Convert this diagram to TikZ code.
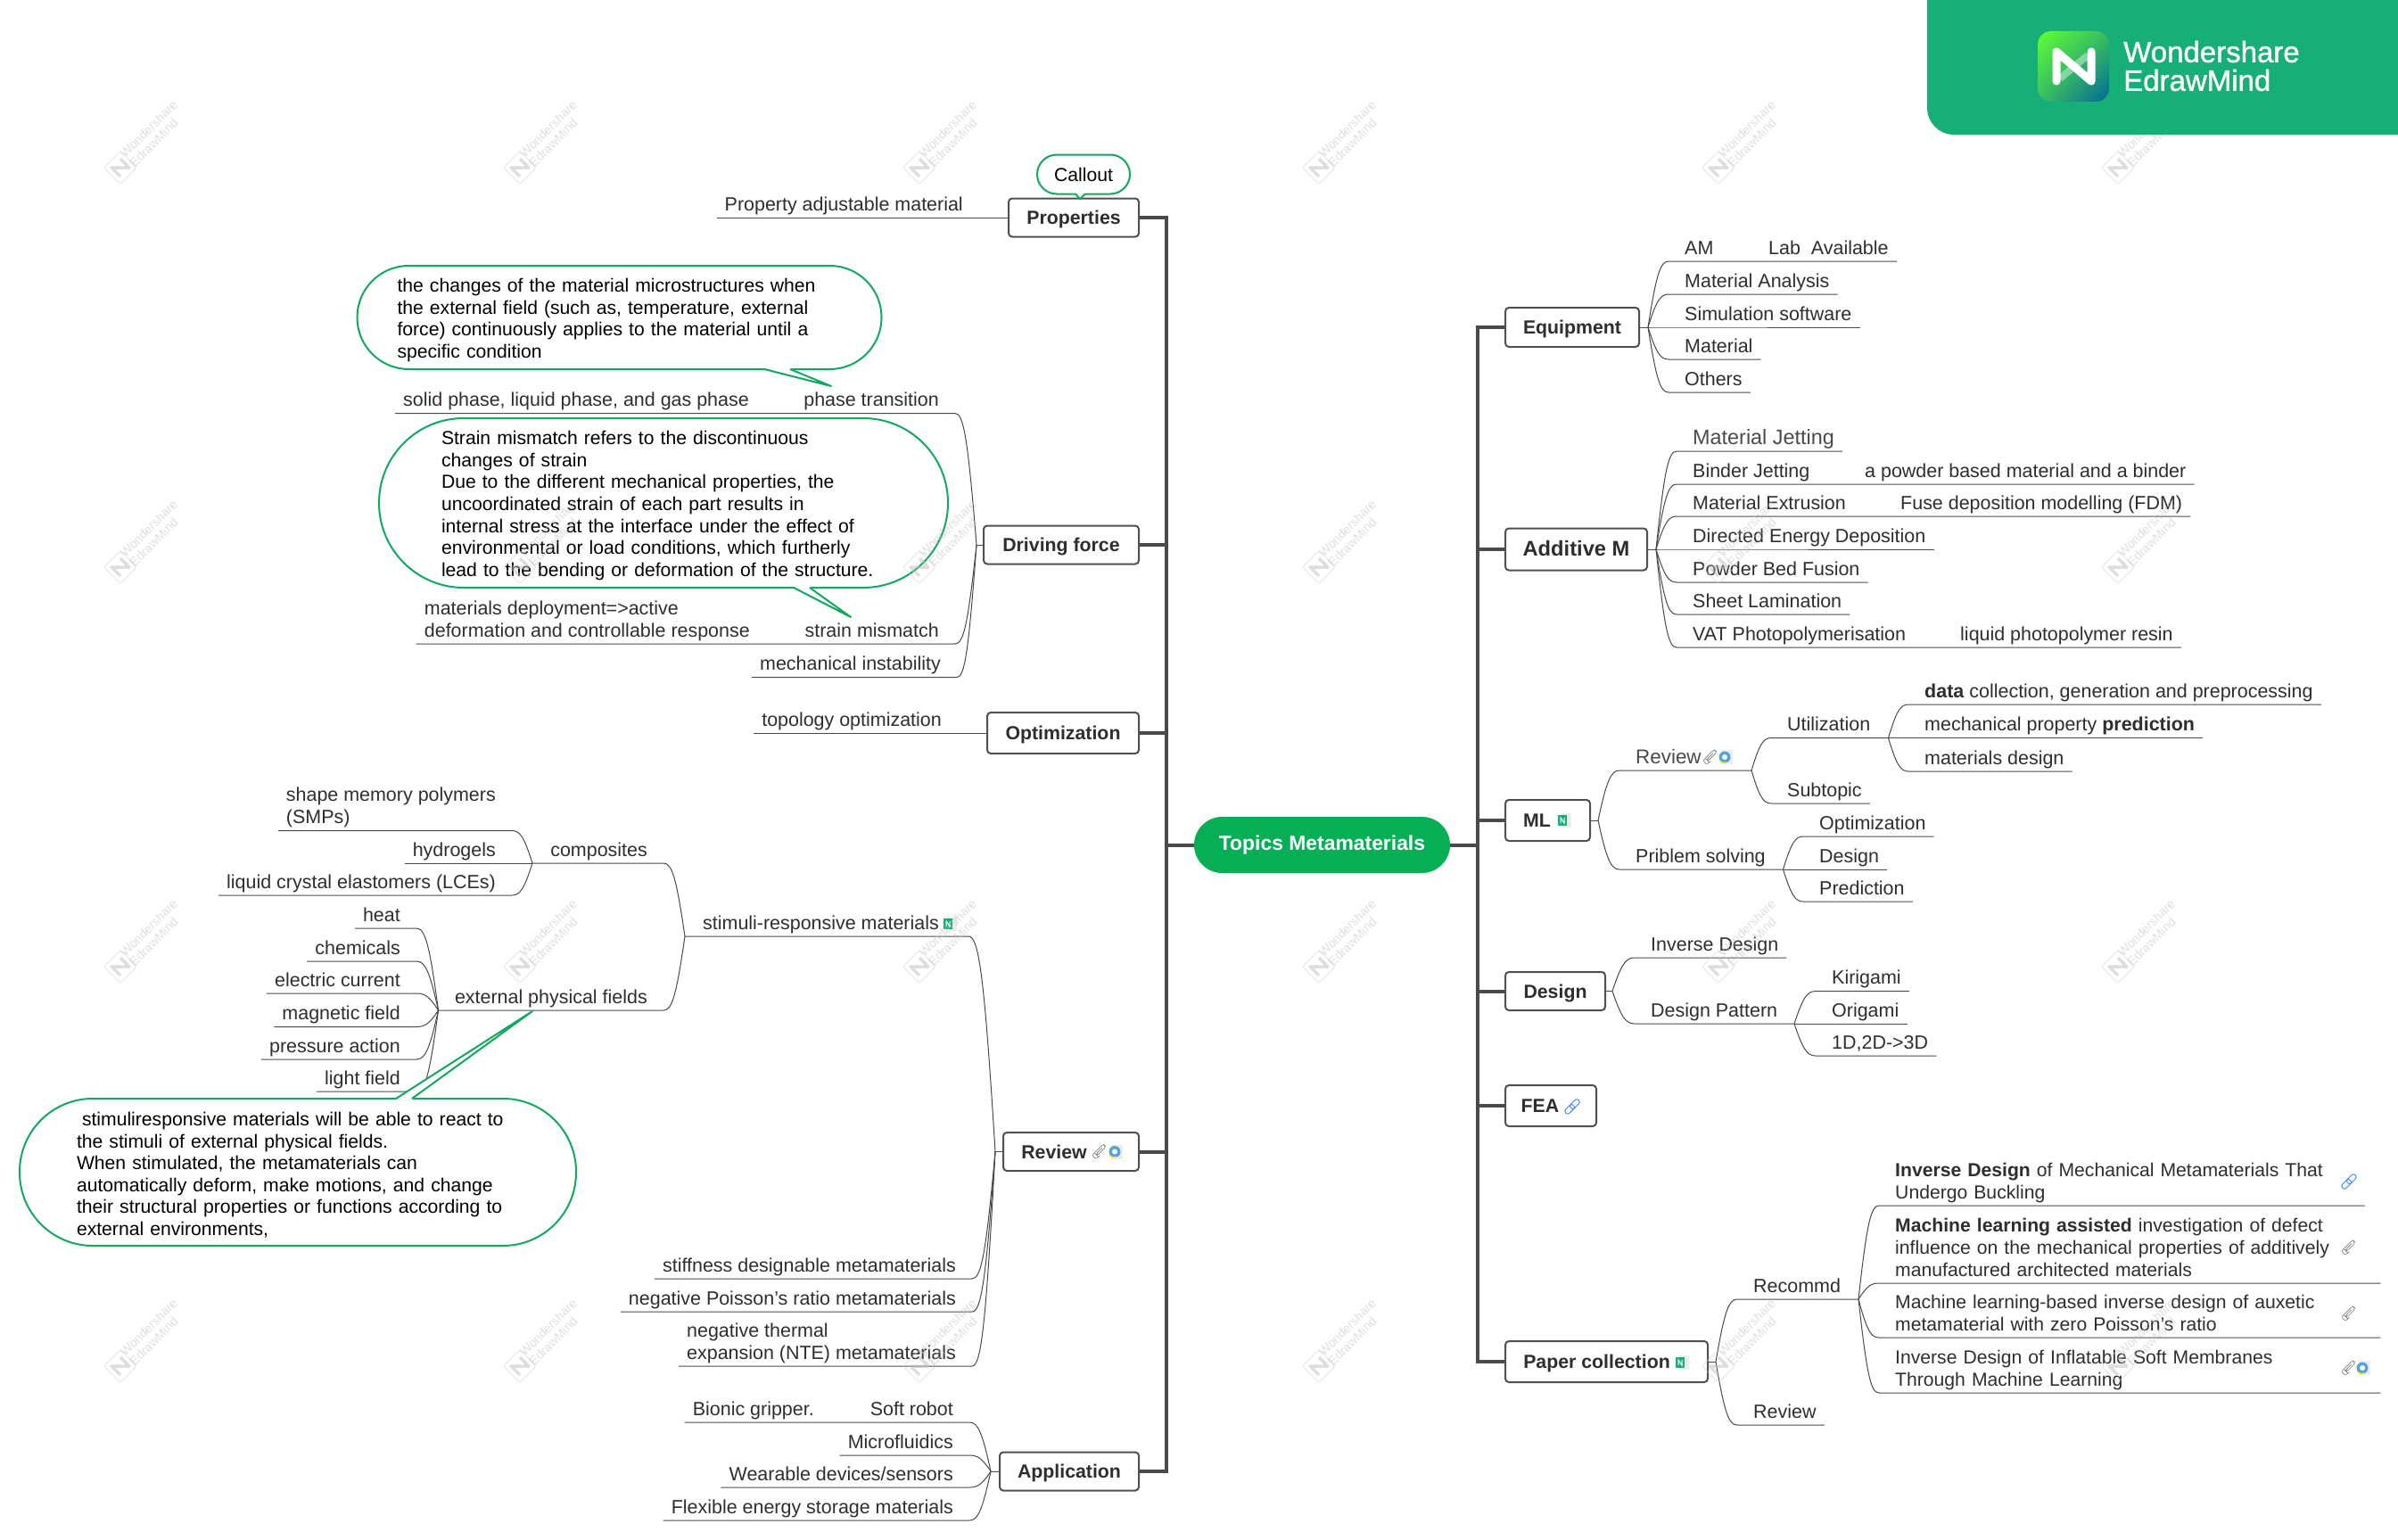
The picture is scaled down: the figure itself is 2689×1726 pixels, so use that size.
\documentclass[tikz,border=0pt]{standalone}
\usepackage{fontspec}
\setmainfont{Liberation Sans}
\newfontfamily\brandfont[FakeBold=1]{Liberation Sans}
\usetikzlibrary{calc,positioning,shadings}
\definecolor{rootgreen}{HTML}{06AF55}
\definecolor{brandgreen}{HTML}{17AF78}
\definecolor{callgreen}{HTML}{12A860}
\definecolor{linegray}{HTML}{4A4A4A}
\definecolor{boxgray}{HTML}{505050}
\definecolor{textgray}{HTML}{2E2E2E}

\begin{document}
\begin{tikzpicture}[
    x=1pt, y=-1pt,
    root/.style={fill=rootgreen, text=white, rounded corners=31.5pt, minimum width=287pt, minimum height=63pt, font=\fontsize{22.9}{28}\selectfont\bfseries},
    topic/.style={draw=boxgray, line width=2pt, rounded corners=4pt, fill=white, text=textgray, minimum height=43pt, inner xsep=0pt, text height=15pt, text depth=0pt, font=\fontsize{21.3}{25}\selectfont\bfseries},
    leaf/.style={inner xsep=9pt, inner ysep=1.1pt, text height=15pt, text depth=6.6pt, text=textgray, font=\fontsize{21.45}{24.6}\selectfont},
    bigleaf/.style={leaf, text=linegray, font=\fontsize{23.4}{26}\selectfont},
    multileaf/.style={inner xsep=9pt, inner ysep=.4pt, align=left, text=textgray, font=\fontsize{21.45}{24.6}\selectfont},
    note/.style={draw=callgreen, line width=2pt, fill=white, align=left, text=black, font=\fontsize{21.15}{24.6}\selectfont},
    bignote/.style={note, inner sep=0pt, execute at begin node=\rule{0pt}{21.5pt}},
    noteline/.style={draw=callgreen, line width=2pt, line join=round},
    link/.style={draw=linegray, line width=1pt},
    trunk/.style={draw=linegray, line width=4pt},
    toright/.style={to path={let \p1=(\tikztostart),\p2=(\tikztotarget) in .. controls ({\x1+.4*(\x2-9pt-\x1)},{\y1+.8*(\y2-\y1)}) and ({\x1+.6*(\x2-9pt-\x1)},\y2) .. ({\x2-9pt},\y2) -- (\tikztotarget)}},
    toleft/.style={to path={let \p1=(\tikztostart),\p2=(\tikztotarget) in .. controls ({\x1+.4*(\x2+9pt-\x1)},{\y1+.8*(\y2-\y1)}) and ({\x1+.6*(\x2+9pt-\x1)},\y2) .. ({\x2+9pt},\y2) -- (\tikztotarget)}},
    pics/clipicon/.style={code={
        \draw[gray, line width=.7pt, rotate=45, rounded corners=2.6pt] (-3,3.2) -- (-9,3.2) -- (-9,-3.2) -- (9,-3.2) -- (9,1.2) -- (-5,1.2) -- (-5,-1) -- (5,-1);
    }},
    pics/chainicon/.style={code={
        \draw[blue!60!cyan!80!white, line width=.9pt, rotate=45, rounded corners=2.4pt] (-10,-3) rectangle (2,3);
        \draw[blue!60!cyan!80!white, line width=.9pt, rotate=45, rounded corners=2.4pt] (-2,-3) rectangle (10,3);
    }},
    pics/webicon/.style={code={
        \fill[gray!15] (-5,-8) rectangle (8,8);
        \fill[cyan!70!blue!70!white] (-1,0) circle (6.5);
        \fill[white] (-1,0) circle (3);
        \draw[yellow!80!orange, line width=1.2pt] (-7,4) to[bend right=30] (1,6);
    }},
    pics/mindicon/.style={code={
        \fill[gray!15] (-2,-8) rectangle (9,8);
        \fill[brandgreen] (-6,-6) rectangle (4,6);
        \draw[white, line width=1pt] (-3,3) -- (-3,-3) -- (1,3) -- (1,-3);
    }},
    wmark/.style={text=gray!50, opacity=.5, align=left, rotate=45, font=\fontsize{14}{15}\selectfont}
]
\path[use as bounding box, fill=white] (0,0) rectangle (2689,1726);

% Trunk and main topics
\node[root] (topics) at (1482.5,947.5) {Topics Metamaterials};
\coordinate (tl) at (1308,947.5);
\coordinate (tr) at (1657,947.5);
\node[topic, anchor=east, minimum width=146pt] (props) at (1278,244) {Properties};
\node[topic, anchor=east, minimum width=174pt] (drive) at (1278,611) {Driving force};
\node[topic, anchor=east, minimum width=170pt, minimum height=46pt] (optim) at (1278,822) {Optimization};
\node[topic, anchor=east, minimum width=152pt] (review) at (1278,1291.5) {Review\hspace{38pt}\mbox{}};
\node[topic, anchor=east, minimum width=156pt] (applic) at (1278,1650) {Application};
\node[topic, anchor=west, minimum width=150pt, minimum height=44pt] (equip) at (1687,367) {Equipment};
\node[topic, anchor=west, minimum width=159pt, minimum height=47pt, font=\fontsize{23.7}{28}\selectfont\bfseries] (addit) at (1687,616) {Additive M};
\node[topic, anchor=west, minimum width=95pt, minimum height=46pt] (ml) at (1687,920) {ML\hspace{24pt}\mbox{}};
\node[topic, anchor=west, minimum width=112pt] (design) at (1687,1111.5) {Design};
\node[topic, anchor=west, minimum width=102pt, minimum height=46pt] (fea) at (1687,1240) {FEA\hspace{24pt}\mbox{}};
\node[topic, anchor=west, minimum width=227pt, minimum height=46pt] (paper) at (1687,1527) {Paper collection\hspace{22pt}\mbox{}};
\draw[trunk] (topics.west) -- (tl);
\draw[trunk] (topics.east) -- (tr);
\foreach \t in {props,drive,optim,review,applic} {\draw[trunk] (\t.east) -| (tl);}
\foreach \t in {equip,addit,ml,design,fea,paper} {\draw[trunk] (\t.west) -| (tr);}

% Junction points
\coordinate (jDrive) at (1095,611);
\coordinate (jReview) at (1116,1291.5);
\coordinate (jStim) at (768,1050);
\coordinate (jComp) at (597,968);
\coordinate (jExt) at (491.5,1133);
\coordinate (jApp) at (1111,1650);
\coordinate (jEquip) at (1848,367);
\coordinate (jAddit) at (1857,616);
\coordinate (jML) at (1792,920);
\coordinate (jRev) at (1964,864);
\coordinate (jUtil) at (2117.5,827.5);
\coordinate (jProb) at (1999.5,975);
\coordinate (jDesign) at (1808,1111.5);
\coordinate (jPat) at (2012,1148);
\coordinate (jPaper) at (1924,1527);
\coordinate (jRec) at (2084,1457);
\foreach \t/\j in {drive/jDrive,review/jReview,applic/jApp,equip/jEquip,addit/jAddit,ml/jML,design/jDesign,paper/jPaper} {\draw[link] (\t) -- (\j);}

% Left side leaves
\node[leaf, anchor=south east] (propmat) at (1089,244) {Property adjustable material};
\node[leaf, anchor=south east] (phase) at (1062,463.5) {phase transition};
\node[leaf, anchor=south east] (solid) at (849,463.5) {solid phase, liquid phase, and gas phase};
\node[leaf, anchor=south east] (strain) at (1062,722) {strain mismatch};
\node[multileaf, anchor=south east] (deploy) at (850,722) {materials deployment=>active\\deformation and controllable response\strut};
\node[leaf, anchor=south east] (instab) at (1064,759.5) {mechanical instability};
\node[leaf, anchor=south east] (topo) at (1065,822) {topology optimization};
\node[leaf, anchor=south east] (stim) at (1077,1050) {stimuli-responsive materials\hspace{15pt}\mbox{}};
\node[leaf, anchor=south east] (comp) at (735,968) {composites};
\node[leaf, anchor=south east] (extf) at (735,1133) {external physical fields};
\node[multileaf, anchor=south east] (smp) at (565,931.5) {shape memory polymers\\(SMPs)\strut};
\node[leaf, anchor=south east] (hydro) at (565,968) {hydrogels};
\node[leaf, anchor=south east] (lce) at (565,1004) {liquid crystal elastomers (LCEs)};
\node[leaf, anchor=south east] (heat) at (458,1041) {heat};
\node[leaf, anchor=south east] (chem) at (458,1078) {chemicals};
\node[leaf, anchor=south east] (elec) at (458,1114) {electric current};
\node[leaf, anchor=south east] (magn) at (458,1151.5) {magnetic field};
\node[leaf, anchor=south east] (press) at (458,1188) {pressure action};
\node[leaf, anchor=south east] (light) at (458,1224) {light field};
\node[leaf, anchor=south east] (stiff) at (1081,1434) {stiffness designable metamaterials};
\node[leaf, anchor=south east] (poiss) at (1081,1471) {negative Poisson’s ratio metamaterials};
\node[multileaf, anchor=south east] (nte) at (1081,1532) {negative thermal\\expansion (NTE) metamaterials\strut};
\node[leaf, anchor=south east] (soft) at (1078,1595) {Soft robot};
\node[leaf, anchor=south east] (bionic) at (922,1595) {Bionic gripper.};
\node[leaf, anchor=south east] (micro) at (1078,1632) {Microfluidics};
\node[leaf, anchor=south east] (wear) at (1078,1668) {Wearable devices/sensors};
\node[leaf, anchor=south east] (flex) at (1078,1705) {Flexible energy storage materials};

\draw[link] (props.west) -- (propmat.south west);
\draw[link] (optim.west) -- (topo.south west);
\draw[link] (jDrive) to[toleft] (phase.south east) -- (solid.south west);
\draw[link] (jDrive) to[toleft] (strain.south east) -- (deploy.south west);
\draw[link] (jDrive) to[toleft] (instab.south east) -- (instab.south west);
\draw[link] (jReview) to[toleft] (stim.south east) -- (jStim);
\draw[link] (jStim) to[toleft] (comp.south east) -- (jComp);
\draw[link] (jStim) to[toleft] (extf.south east) -- (jExt);
\foreach \k in {smp,hydro,lce} {\draw[link] (jComp) to[toleft] (\k.south east) -- (\k.south west);}
\foreach \k in {heat,chem,elec,magn,press,light} {\draw[link] (jExt) to[toleft] (\k.south east) -- (\k.south west);}
\foreach \k in {stiff,poiss,nte} {\draw[link] (jReview) to[toleft] (\k.south east) -- (\k.south west);}
\draw[link] (jApp) to[toleft] (soft.south east) -- (bionic.south west);
\foreach \k in {micro,wear,flex} {\draw[link] (jApp) to[toleft] (\k.south east) -- (\k.south west);}

% Right side leaves
\node[leaf, anchor=south west] (am) at (1880,293) {AM};
\node[leaf, anchor=south west] (lab) at (1974,293) {Lab\ \ Available};
\node[leaf, anchor=south west] (analysis) at (1880,330) {Material Analysis};
\node[leaf, anchor=south west] (simul) at (1880,367) {Simulation software};
\node[leaf, anchor=south west] (matl) at (1880,403) {Material};
\node[leaf, anchor=south west] (others) at (1880,440) {Others};
\node[bigleaf, anchor=south west] (jetting) at (1889,506) {Material Jetting};
\node[leaf, anchor=south west] (binder) at (1889,543) {Binder Jetting};
\node[leaf, anchor=south west] (powder) at (2082,543) {a powder based material and a binder};
\node[leaf, anchor=south west] (extru) at (1889,579) {Material Extrusion};
\node[leaf, anchor=south west] (fuse) at (2122,579) {Fuse deposition modelling (FDM)};
\node[leaf, anchor=south west] (ded) at (1889,616) {Directed Energy Deposition};
\node[leaf, anchor=south west] (pbf) at (1889,653) {Powder Bed Fusion};
\node[leaf, anchor=south west] (sheet) at (1889,689) {Sheet Lamination};
\node[leaf, anchor=south west] (vat) at (1889,726) {VAT Photopolymerisation};
\node[leaf, anchor=south west] (resin) at (2189,726) {liquid photopolymer resin};
\node[bigleaf, anchor=south west, font=\fontsize{22.4}{26}\selectfont] (mlrev) at (1825,864) {Review\hspace{47pt}\mbox{}};
\node[leaf, anchor=south west] (util) at (1995,827.5) {Utilization};
\node[leaf, anchor=south west] (subt) at (1995,901) {Subtopic};
\node[leaf, anchor=south west] (data) at (2149,790) {\textbf{data} collection, generation and preprocessing};
\node[leaf, anchor=south west] (mprop) at (2149,827.5) {mechanical property \textbf{prediction}};
\node[leaf, anchor=south west] (mdes) at (2149,865) {materials design};
\node[leaf, anchor=south west] (prob) at (1825,975) {Priblem solving};
\node[leaf, anchor=south west] (popt) at (2031,938) {Optimization};
\node[leaf, anchor=south west] (pdes) at (2031,975) {Design};
\node[leaf, anchor=south west] (ppred) at (2031,1011) {Prediction};
\node[leaf, anchor=south west] (invd) at (1842,1074) {Inverse Design};
\node[leaf, anchor=south west] (dpat) at (1842,1148) {Design Pattern};
\node[leaf, anchor=south west] (kiri) at (2045,1111.5) {Kirigami};
\node[leaf, anchor=south west] (ori) at (2045,1148) {Origami};
\node[leaf, anchor=south west] (dim) at (2045,1184) {1D,2D->3D};
\node[leaf, anchor=south west] (recom) at (1957,1457) {Recommd};
\node[leaf, anchor=south west] (prev) at (1957,1598) {Review};
\node[multileaf, anchor=south west, text width=517.5pt, font=\fontsize{21.15}{24.6}\selectfont] (pap1) at (2116,1352) {\textbf{Inverse Design} of Mechanical Metamaterials That\\Undergo Buckling\strut};
\node[multileaf, anchor=south west, text width=535pt, font=\fontsize{21.15}{24.6}\selectfont] (pap2) at (2116,1439) {\textbf{Machine learning assisted} investigation of defect\\influence on the mechanical properties of additively\\manufactured architected materials\strut};
\node[multileaf, anchor=south west, text width=535pt, font=\fontsize{21.15}{24.6}\selectfont] (pap3) at (2116,1500) {Machine learning-based inverse design of auxetic\\metamaterial with zero Poisson’s ratio\strut};
\node[multileaf, anchor=south west, text width=535pt, font=\fontsize{21.15}{24.6}\selectfont] (pap4) at (2116,1562) {Inverse Design of Inflatable Soft Membranes\\Through Machine Learning\strut};

\draw[link] (jEquip) to[toright] (am.south west) -- (lab.south east);
\foreach \k in {analysis,simul,matl,others} {\draw[link] (jEquip) to[toright] (\k.south west) -- (\k.south east);}
\draw[link] (jAddit) to[toright] (binder.south west) -- (powder.south east);
\draw[link] (jAddit) to[toright] (extru.south west) -- (fuse.south east);
\draw[link] (jAddit) to[toright] (vat.south west) -- (resin.south east);
\foreach \k in {jetting,ded,pbf,sheet} {\draw[link] (jAddit) to[toright] (\k.south west) -- (\k.south east);}
\draw[link] (jML) to[toright] (mlrev.south west) -- (jRev);
\draw[link] (jML) to[toright] (prob.south west) -- (jProb);
\draw[link] (jRev) to[toright] (util.south west) -- (jUtil);
\draw[link] (jRev) to[toright] (subt.south west) -- (subt.south east);
\foreach \k in {data,mprop,mdes} {\draw[link] (jUtil) to[toright] (\k.south west) -- (\k.south east);}
\foreach \k in {popt,pdes,ppred} {\draw[link] (jProb) to[toright] (\k.south west) -- (\k.south east);}
\draw[link] (jDesign) to[toright] (invd.south west) -- (invd.south east);
\draw[link] (jDesign) to[toright] (dpat.south west) -- (jPat);
\foreach \k in {kiri,ori,dim} {\draw[link] (jPat) to[toright] (\k.south west) -- (\k.south east);}
\draw[link] (jPaper) to[toright] (recom.south west) -- (jRec);
\draw[link] (jPaper) to[toright] (prev.south west) -- (prev.south east);
\foreach \k in {pap1,pap2,pap3,pap4} {\draw[link] (jRec) to[toright] (\k.south west) -- (\k.south east);}

% Callouts
\node[note, minimum width=104pt, minimum height=44pt, rounded corners=22pt, inner sep=0pt] (callout) at (1215,195.5) {Callout};
\path[fill=white] (1206,216) -- (1211,223) -- (1217,216) -- cycle;
\draw[noteline] (1206,217.5) -- (1211,223) -- (1217,217.5);
\node[bignote, minimum width=588pt, minimum height=116pt, rounded corners=58pt, text width=498pt] (notephase) at (694.5,356) {the changes of the material microstructures when\\the external field (such as, temperature, external\\force) continuously applies to the material until a\\specific condition};
\path[fill=white] (857,413) -- (932,433) -- (886,413) -- cycle;
\draw[noteline] (857,414) -- (932,433) -- (886,414);
\node[bignote, minimum width=638pt, minimum height=190pt, rounded corners=95pt, text width=498pt] (notestrain) at (744,564) {Strain mismatch refers to the discontinuous\\changes of strain\\Due to the different mechanical properties, the\\uncoordinated strain of each part results in\\internal stress at the interface under the effect of\\environmental or load conditions, which furtherly\\lead to the bending or deformation of the structure.};
\path[fill=white] (890,658) -- (954,692) -- (908,658) -- cycle;
\draw[noteline] (890,659) -- (954,692) -- (908,659);
\node[bignote, minimum width=624pt, minimum height=165pt, rounded corners=82pt, text width=496pt] (notestim) at (334,1314.5) {\hspace*{6pt}stimuliresponsive materials will be able to react to\\the stimuli of external physical fields.\\When stimulated, the metamaterials can\\automatically deform, make motions, and change\\their structural properties or functions according to\\external environments,};
\path[fill=white] (444,1233) -- (597,1134) -- (462,1233) -- cycle;
\draw[noteline] (444,1232) -- (597,1134) -- (462,1232);

% Small icons
\pic at (1233,1291.5) {clipicon};
\pic at (1251,1291.5) {webicon};
\pic at (1753,920) {mindicon};
\pic at (1763,1241) {chainicon};
\pic at (1885,1528) {mindicon};
\pic at (1918,849) {clipicon};
\pic at (1935,849) {webicon};
\pic at (1064,1036) {mindicon};
\pic at (2634,1325) {chainicon};
\pic at (2634,1399) {clipicon};
\pic at (2634,1473) {clipicon};
\pic at (2634,1534) {clipicon};
\pic at (2650,1534) {webicon};

% Watermark grid
\foreach \wx in {135,583,...,2375} {
  \foreach \wy in {188,636,1084,1532} {
    \begin{scope}[shift={(\wx,\wy)}, rotate=45]
      \draw[gray!35, opacity=.5, line width=1pt, rounded corners=3pt] (-13,-13) rectangle (13,13);
      \draw[gray!50, opacity=.5, line width=3.5pt, line join=round] (-7,7) -- (-7,-7) -- (7,7) -- (7,-7);
    \end{scope}
    \node[wmark] (mark-\wx-\wy) at ($(\wx,\wy)+(37,-38)$) {Wondershare\\EdrawMind};
  }
}

% Brand badge
\fill[brandgreen] (2161,0) [rounded corners=30pt] -- (2161,151) [sharp corners] -- (2689,151) -- (2689,0) -- cycle;
\shade[upper left=green!70!lime!80!white, lower right=teal!80!blue, upper right=brandgreen!80!lime, lower left=brandgreen!80!lime, rounded corners=15pt] (2285,35) rectangle (2365,114);
\draw[white, line width=9pt, line join=round, line cap=round] (2306,91) -- (2306,58) -- (2345,91) -- (2345,58);
\draw[white, opacity=.4, line width=8pt] (2310,88) -- (2341,62);
\node[anchor=west, inner sep=0pt, text=white, align=left, font=\brandfont\fontsize{33}{32}\selectfont] (brand) at (2381,74) {Wondershare\\EdrawMind};
\end{tikzpicture}
\end{document}
